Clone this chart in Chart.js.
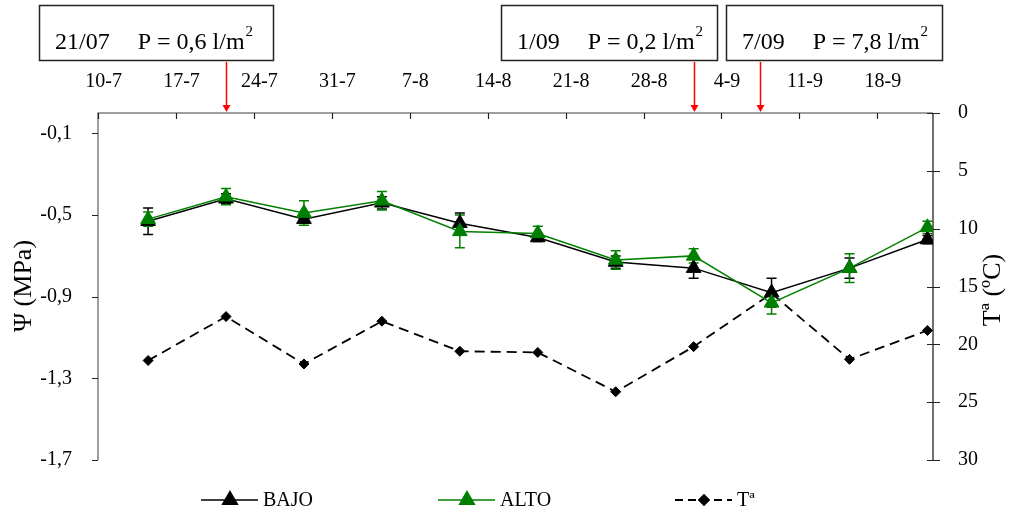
<!DOCTYPE html>
<html>
<head>
<meta charset="utf-8">
<script src="https://cdn.jsdelivr.net/npm/chart.js@4.4.1/dist/chart.umd.min.js"></script>
<style>
  html, body { margin: 0; padding: 0; background: #fff; }
  #wrap { width: 1015px; height: 512px; }
</style>
</head>
<body>
<div id="wrap"><canvas id="potencial" width="1015" height="512"></canvas></div>
<script>
// sampling dates as day numbers counted from 1 July (31 = 31-7, 63 = 1-9)
const sampleDays = [14, 21, 28, 35, 42, 49, 56, 63, 70, 77, 84];

// leaf water potential (MPa) with its error, low and high position
const bajo    = [-0.53, -0.42, -0.52, -0.44, -0.54, -0.61, -0.73, -0.76, -0.88, -0.76, -0.62];
const bajoErr = [0.065, 0.025, 0.02, 0.03, 0.05, 0.02, 0.03, 0.05, 0.07, 0.05, 0.02];
const alto    = [-0.52, -0.41, -0.49, -0.43, -0.58, -0.59, -0.72, -0.70, -0.93, -0.76, -0.56];
const altoErr = [0.035, 0.04, 0.06, 0.045, 0.08, 0.035, 0.045, 0.035, 0.055, 0.07, 0.03];

// air temperature (ºC)
const temp = [21.4, 17.6, 21.7, 18.0, 20.6, 20.7, 24.1, 20.2, 15.6, 21.3, 18.8];

// date axis on top
const weekDays   = [10, 17, 24, 31, 38, 45, 52, 59, 66, 73, 80];
const weekLabels = ['10-7', '17-7', '24-7', '31-7', '7-8', '14-8', '21-8', '28-8', '4-9', '11-9', '18-9'];
const psiTicks  = [-0.1, -0.5, -0.9, -1.3, -1.7];
const tempTicks = [0, 5, 10, 15, 20, 25, 30];

// rain events
const rainDays    = [21, 63, 69];
const rainDates   = ['21/07', '1/09', '7/09'];
const rainAmounts = ['0,6', '0,2', '7,8'];

const SERIF = '"Liberation Serif", "Times New Roman", serif';
const GREEN = '#008000';

Chart.defaults.font.family = SERIF;
Chart.defaults.font.size = 20;
Chart.defaults.color = '#000';

const pts = vals => vals.map((v, i) => ({ x: sampleDays[i], y: v }));

// axis lines and tick marks (ticks inward on top, outward left, crossing right)
const axesPlugin = {
  id: 'axesLines',
  beforeDatasetsDraw(chart) {
    const { ctx, chartArea: a, scales } = chart;
    ctx.save();
    ctx.lineWidth = 1.5;
    ctx.strokeStyle = '#808080';
    ctx.beginPath();
    ctx.moveTo(a.left, a.bottom);
    ctx.lineTo(a.left, a.top);
    ctx.lineTo(a.right, a.top);
    ctx.stroke();
    ctx.strokeStyle = '#404040';
    ctx.beginPath();
    ctx.moveTo(a.right, a.top);
    ctx.lineTo(a.right, a.bottom);
    ctx.stroke();

    ctx.lineWidth = 1.2;
    ctx.strokeStyle = '#222';
    ctx.beginPath();
    weekDays.forEach(d => {
      const px = Math.round(scales.x.getPixelForValue(d - 0.5)) + 0.5;
      ctx.moveTo(px, a.top);
      ctx.lineTo(px, a.top + 6);
    });
    psiTicks.forEach(v => {
      const py = Math.round(scales.y.getPixelForValue(v)) + 0.5;
      ctx.moveTo(a.left - 6, py);
      ctx.lineTo(a.left, py);
    });
    tempTicks.forEach(v => {
      const py = Math.round(scales.y1.getPixelForValue(v)) + 0.5;
      ctx.moveTo(a.right - 6, py);
      ctx.lineTo(a.right + 7, py);
    });
    ctx.stroke();
    ctx.restore();
  }
};

// error bars from each dataset's errors array
const errorBars = {
  id: 'errorBars',
  beforeDatasetsDraw(chart) {
    const { ctx, scales } = chart;
    ctx.save();
    chart.data.datasets.forEach(ds => {
      if (!ds.errors) return;
      ctx.strokeStyle = ds.borderColor;
      ctx.lineWidth = 1.5;
      ds.data.forEach((p, i) => {
        const px = scales.x.getPixelForValue(p.x);
        const top = scales.y.getPixelForValue(p.y + ds.errors[i]);
        const bot = scales.y.getPixelForValue(p.y - ds.errors[i]);
        ctx.beginPath();
        ctx.moveTo(px, top); ctx.lineTo(px, bot);
        ctx.moveTo(px - 5, top); ctx.lineTo(px + 5, top);
        ctx.moveTo(px - 5, bot); ctx.lineTo(px + 5, bot);
        ctx.stroke();
      });
    });
    ctx.restore();
  }
};

// rain boxes with arrows, axis titles and legend
const extras = {
  id: 'extras',
  afterDraw(chart) {
    const { ctx, chartArea: a, scales } = chart;
    ctx.save();

    const boxes = [[39, 234], [501, 216], [726, 216]];
    ctx.textBaseline = 'alphabetic';
    rainDays.forEach((d, i) => {
      const [x0, w] = boxes[i];
      ctx.strokeStyle = '#222';
      ctx.lineWidth = 1.5;
      ctx.strokeRect(x0 + 0.5, 5.5, w, 55);

      ctx.fillStyle = '#000';
      ctx.font = '24px ' + SERIF;
      ctx.textAlign = 'left';
      const dateW = ctx.measureText(rainDates[i]).width;
      const main = 'P = ' + rainAmounts[i] + ' l/m';
      const mainW = ctx.measureText(main).width;
      ctx.fillText(rainDates[i], x0 + 16, 49);
      ctx.fillText(main, x0 + 16 + dateW + 28, 49);
      ctx.font = '15px ' + SERIF;
      ctx.fillText('2', x0 + 16 + dateW + 28 + mainW + 1, 36);

      // arrow down to the date on the axis
      const px = Math.round(scales.x.getPixelForValue(d)) + 0.5;
      ctx.strokeStyle = '#ff0000';
      ctx.fillStyle = '#ff0000';
      ctx.lineWidth = 1.5;
      ctx.beginPath();
      ctx.moveTo(px, 62);
      ctx.lineTo(px, a.top - 6);
      ctx.stroke();
      ctx.beginPath();
      ctx.moveTo(px - 4, a.top - 8);
      ctx.lineTo(px + 4, a.top - 8);
      ctx.lineTo(px, a.top - 1);
      ctx.closePath();
      ctx.fill();
    });

    // axis titles, both reading upward
    ctx.fillStyle = '#000';
    ctx.font = '26px ' + SERIF;
    ctx.textAlign = 'center';
    ctx.textBaseline = 'middle';
    [['Ψ (MPa)', 24, 286], ['Tª (ºC)', 993, 290]].forEach(([t, x, y]) => {
      ctx.save();
      ctx.translate(x, y);
      ctx.rotate(-Math.PI / 2);
      ctx.fillText(t, 0, 0);
      ctx.restore();
    });

    // legend: line with marker, then label
    const ly = 500;
    chart.data.datasets.forEach((ds, i) => {
      const x0 = 201 + i * 237;
      ctx.strokeStyle = ds.borderColor;
      ctx.lineWidth = ds.borderWidth;
      ctx.setLineDash(ds.borderDash ? [8, 5] : []);
      ctx.beginPath();
      ctx.moveTo(x0, ly);
      ctx.lineTo(x0 + 57, ly);
      ctx.stroke();
      ctx.setLineDash([]);
      ctx.fillStyle = ds.pointBackgroundColor;
      ctx.strokeStyle = ds.pointBorderColor;
      Chart.helpers.drawPoint(ctx, {
        pointStyle: ds.pointStyle,
        radius: ds.pointRadius,
        borderWidth: 1
      }, x0 + 29, ly);
      ctx.fillStyle = '#000';
      ctx.font = '20px ' + SERIF;
      ctx.textAlign = 'left';
      ctx.textBaseline = 'middle';
      ctx.fillText(ds.label, x0 + 62, ly + 1);
    });

    ctx.restore();
  }
};

new Chart(document.getElementById('potencial'), {
  type: 'line',
  data: {
    datasets: [
      {
        label: 'BAJO',
        data: pts(bajo),
        errors: bajoErr,
        yAxisID: 'y',
        borderColor: '#000',
        borderWidth: 1.5,
        pointStyle: 'triangle',
        pointRadius: 8.5,
        pointBackgroundColor: '#000',
        pointBorderColor: '#000',
        pointBorderWidth: 1,
        order: 1
      },
      {
        label: 'ALTO',
        data: pts(alto),
        errors: altoErr,
        yAxisID: 'y',
        borderColor: GREEN,
        borderWidth: 1.5,
        pointStyle: 'triangle',
        pointRadius: 8.5,
        pointBackgroundColor: GREEN,
        pointBorderColor: GREEN,
        pointBorderWidth: 1,
        order: 0
      },
      {
        label: 'Tª',
        data: pts(temp),
        yAxisID: 'y1',
        borderColor: '#000',
        borderWidth: 1.8,
        borderDash: [10, 6],
        pointStyle: 'rectRot',
        pointRadius: 5,
        pointBackgroundColor: '#000',
        pointBorderColor: '#000',
        pointBorderWidth: 1,
        order: 2
      }
    ]
  },
  options: {
    responsive: false,
    devicePixelRatio: 1,
    animation: false,
    layout: { padding: { left: 0, right: 0, top: 0, bottom: 52 } },
    plugins: {
      legend: { display: false },
      tooltip: { enabled: false }
    },
    elements: { line: { tension: 0 } },
    scales: {
      x: {
        type: 'linear',
        position: 'top',
        min: 9.5,
        max: 84.5,
        grid: { display: false },
        border: { display: false },
        afterBuildTicks: s => { s.ticks = weekDays.map(v => ({ value: v })); },
        afterFit: s => { s.height = 113; },
        ticks: {
          padding: 11,
          maxRotation: 0,
          autoSkip: false,
          callback: (v, i) => weekLabels[i]
        }
      },
      y: {
        position: 'left',
        min: -1.7,
        max: 0,
        grid: { display: false },
        border: { display: false },
        afterBuildTicks: s => { s.ticks = psiTicks.map(v => ({ value: v })); },
        afterFit: s => { s.width = 98; },
        ticks: {
          padding: 18,
          callback: v => v.toFixed(1).replace('.', ',')
        }
      },
      y1: {
        position: 'right',
        min: 0,
        max: 30,
        reverse: true,
        grid: { display: false },
        border: { display: false },
        afterBuildTicks: s => { s.ticks = tempTicks.map(v => ({ value: v })); },
        afterFit: s => { s.width = 82; },
        ticks: { padding: 17 }
      }
    }
  },
  plugins: [axesPlugin, errorBars, extras]
});
</script>
</body>
</html>
